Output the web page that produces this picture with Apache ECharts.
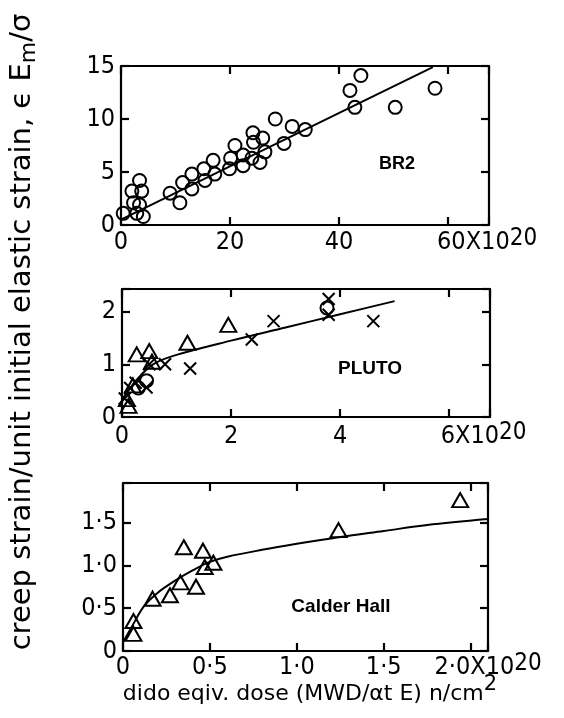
<!DOCTYPE html>
<html>
<head>
<meta charset="utf-8">
<script src="https://cdn.jsdelivr.net/npm/echarts@6/dist/echarts.min.js"></script>
<style>
  html, body { margin: 0; padding: 0; background: #fff; }
  #chart { width: 564px; height: 718px; }
</style>
</head>
<body>
<div id="chart"></div>
<script>
// ---- BR2 panel ----
const br2Points = [
  [0.4, 1.1], [2.0, 3.2], [3.4, 4.2], [3.8, 3.2], [2.3, 2.1], [3.4, 1.9], [2.9, 1.1], [4.1, 0.8],
  [9.0, 3.0], [10.8, 2.1], [11.3, 4.0], [13.0, 4.8], [13.0, 3.4], [15.2, 5.3], [15.4, 4.2],
  [16.9, 6.1], [17.2, 4.8], [19.9, 5.3], [20.1, 6.3], [20.9, 7.5], [22.4, 6.6], [22.4, 5.6],
  [24.0, 6.3], [24.3, 7.8], [24.2, 8.7], [25.5, 5.9], [26.0, 8.2], [26.4, 6.9], [28.3, 10.0],
  [29.9, 7.7], [31.4, 9.3], [33.8, 9.0], [42.0, 12.7], [44.0, 14.1], [42.9, 11.1], [50.3, 11.1],
  [57.6, 12.9]
];
const br2Fit = [[0, 0.5], [57.2, 14.9]];
const br2DoseTicks = ['0', '20', '40', '60'];
const br2StrainTicks = ['0', '5', '10', '15'];

// ---- PLUTO panel ----
const plutoCrosses = [
  [0.05, 0.35], [0.15, 0.55], [0.25, 0.65], [0.45, 0.56], [0.5, 1.0], [0.79, 1.0], [1.25, 0.92],
  [2.38, 1.47], [2.78, 1.82], [3.79, 2.24], [3.79, 1.94], [4.61, 1.82]
];
const plutoTriangles = [
  [0.09, 0.34], [0.12, 0.21], [0.2, 0.6], [0.27, 1.19], [0.5, 1.25], [0.55, 1.05], [1.2, 1.41], [1.95, 1.75]
];
const plutoCircles = [[0.3, 0.55], [0.45, 0.69], [3.76, 2.07]];
const plutoFit = [
  [0, 0.3], [0.15, 0.55], [0.35, 0.8], [0.6, 1.02], [1.0, 1.18], [2.0, 1.45], [3.0, 1.7], [4.0, 1.95], [5.0, 2.2]
];
const plutoDoseTicks = ['0', '2', '4', '6'];
const plutoStrainTicks = ['0', '1', '2'];

// ---- Calder Hall panel ----
const calderTriangles = [
  [0.06, 0.2], [0.06, 0.35], [0.17, 0.61], [0.27, 0.65], [0.33, 0.8], [0.35, 1.21], [0.42, 0.75],
  [0.46, 1.17], [0.47, 0.98], [0.52, 1.03], [1.24, 1.41], [1.94, 1.76]
];
const calderFit = [
  [0, 0.1], [0.05, 0.28], [0.12, 0.52], [0.2, 0.68], [0.3, 0.82], [0.4, 0.94], [0.5, 1.04], [0.6, 1.1],
  [0.8, 1.18], [1.0, 1.25], [1.25, 1.33], [1.5, 1.4], [1.75, 1.47], [2.1, 1.54]
];
const calderDoseTicks = ['0', '0·5', '1·0', '1·5', '2·0'];
const calderStrainTicks = ['0', '0·5', '1·0', '1·5'];

const doseScale = ['X10', '20'];

const FONT = 'DejaVu Sans Condensed';
const TITLE_FONT = 'DejaVu Sans';
const INK = '#000';

const panels = [
  { grid: { left: 121, top: 66, width: 368, height: 159 },
    x: { max: 67.5, interval: 20, ticks: br2DoseTicks, margin: 2, lead: 78 },
    y: { max: 15, interval: 5, ticks: br2StrainTicks } },
  { grid: { left: 122, top: 289, width: 368, height: 128 },
    x: { max: 6.75, interval: 2, ticks: plutoDoseTicks, margin: 4, lead: 69 },
    y: { max: 2.43, interval: 1, ticks: plutoStrainTicks } },
  { grid: { left: 123, top: 483, width: 365, height: 168 },
    x: { max: 2.1, interval: 0.5, ticks: calderDoseTicks, margin: 1, lead: 35 },
    y: { max: 1.96, interval: 0.5, ticks: calderStrainTicks } }
];

function tickText(ticks, interval, v) {
  const i = Math.round(v / interval);
  if (Math.abs(v - i * interval) > 1e-6 || i < 0 || i >= ticks.length) return null;
  return { i, text: ticks[i], last: i === ticks.length - 1 };
}

const lineStyle = { color: INK, width: 2.2 };
const tickStyle = { show: true, inside: true, length: 8, lineStyle: { color: INK, width: 2.2 } };

const grids = [], xAxes = [], yAxes = [];
panels.forEach((p, k) => {
  grids.push(Object.assign({ outerBoundsMode: 'none', containLabel: false }, p.grid));
  const xBase = { gridIndex: k, type: 'value', min: 0, max: p.x.max, interval: p.x.interval,
    axisLine: { show: true, onZero: false, lineStyle }, axisTick: tickStyle, splitLine: { show: false } };
  const yBase = { gridIndex: k, type: 'value', min: 0, max: p.y.max, interval: p.y.interval,
    axisLine: { show: true, onZero: false, lineStyle }, axisTick: tickStyle, splitLine: { show: false } };
  xAxes.push(Object.assign({}, xBase, {
    position: 'bottom',
    axisLabel: {
      show: true, margin: p.x.margin, color: INK,
      hideOverlap: false, showMinLabel: true, showMaxLabel: true,
      formatter: (v) => {
        const t = tickText(p.x.ticks, p.x.interval, v);
        if (!t) return '';
        if (t.last) return '{lead|' + t.text + '}{n|' + doseScale[0] + '}{s|' + doseScale[1] + '}';
        return '{n|' + t.text + '}';
      },
      rich: {
        n: { fontFamily: FONT, fontSize: 25, lineHeight: 30, color: INK },
        lead: { fontFamily: FONT, fontSize: 25, lineHeight: 30, color: INK, padding: [0, 0, 0, p.x.lead] },
        s: { fontFamily: FONT, fontSize: 24, lineHeight: 10, verticalAlign: 'top', color: INK }
      }
    }
  }));
  xAxes.push(Object.assign({}, xBase, { position: 'top', axisLabel: { show: false } }));
  yAxes.push(Object.assign({}, yBase, {
    position: 'left',
    axisLabel: {
      show: true, margin: 6, color: INK, fontFamily: FONT, fontSize: 25,
      padding: [6, 0, 0, 0], hideOverlap: false, showMaxLabel: true,
      formatter: (v) => { const t = tickText(p.y.ticks, p.y.interval, v); return t ? t.text : ''; }
    }
  }));
  yAxes.push(Object.assign({}, yBase, { position: 'right', axisLabel: { show: false } }));
});

const hollow = { color: 'rgba(0,0,0,0)', borderColor: INK, borderWidth: 2, opacity: 1 };
const crossPath = 'path://M0,0L10,10M10,0L0,10';

function scatter(idx, data, symbol, size) {
  return { type: 'scatter', xAxisIndex: idx * 2, yAxisIndex: idx * 2, data, symbol, symbolSize: size,
    itemStyle: hollow, silent: true, z: 3 };
}
function fit(idx, data, smooth) {
  return { type: 'line', xAxisIndex: idx * 2, yAxisIndex: idx * 2, data, showSymbol: false, smooth,
    lineStyle: { color: INK, width: 2 }, silent: true, z: 2 };
}

const series = [
  fit(0, br2Fit, false),
  scatter(0, br2Points, 'circle', 13),
  fit(1, plutoFit, 0.35),
  scatter(1, plutoCrosses, crossPath, 12),
  scatter(1, plutoTriangles, 'triangle', [16, 14]),
  scatter(1, plutoCircles, 'circle', 13),
  fit(2, calderFit, 0.35),
  scatter(2, calderTriangles, 'triangle', [16, 14])
];

const panelLabel = (text, x, y, size) => ({
  type: 'text', x, y, silent: true,
  style: { text, fill: INK, font: 'bold ' + size + 'px "Liberation Sans", Arial, sans-serif',
    textAlign: 'center', textVerticalAlign: 'middle', align: 'center', verticalAlign: 'middle' }
});

const chart = echarts.init(document.getElementById('chart'), null, { renderer: 'canvas' });
chart.setOption({
  backgroundColor: '#fff',
  animation: false,
  grid: grids,
  xAxis: xAxes,
  yAxis: yAxes,
  series,
  graphic: [
    panelLabel('BR2', 397, 164, 18),
    panelLabel('PLUTO', 370, 369, 19),
    panelLabel('Calder Hall', 341, 607, 19),
    {
      // shared y-axis title, reading bottom-to-top
      type: 'text', x: 22, y: 332, rotation: Math.PI / 2, silent: true,
      style: {
        text: '{t|creep strain/unit initial elastic strain, ϵ E}{m|m}{t|/σ}',
        textAlign: 'center', textVerticalAlign: 'middle', align: 'center', verticalAlign: 'middle',
        rich: {
          t: { fontFamily: TITLE_FONT, fontSize: 29, lineHeight: 36, fill: INK, color: INK },
          m: { fontFamily: TITLE_FONT, fontSize: 22, lineHeight: 22, verticalAlign: 'bottom', fill: INK, color: INK }
        }
      }
    },
    {
      // x-axis title under the bottom panel
      type: 'text', x: 310, y: 694, silent: true,
      style: {
        text: '{t|dido eqiv. dose (MWD/αt E) n/cm}{s|2}',
        textAlign: 'center', textVerticalAlign: 'middle', align: 'center', verticalAlign: 'middle',
        rich: {
          t: { fontFamily: TITLE_FONT, fontSize: 22, lineHeight: 40, fill: INK, color: INK },
          s: { fontFamily: TITLE_FONT, fontSize: 21, lineHeight: 4, verticalAlign: 'top', fill: INK, color: INK }
        }
      }
    }
  ]
});
</script>
</body>
</html>
